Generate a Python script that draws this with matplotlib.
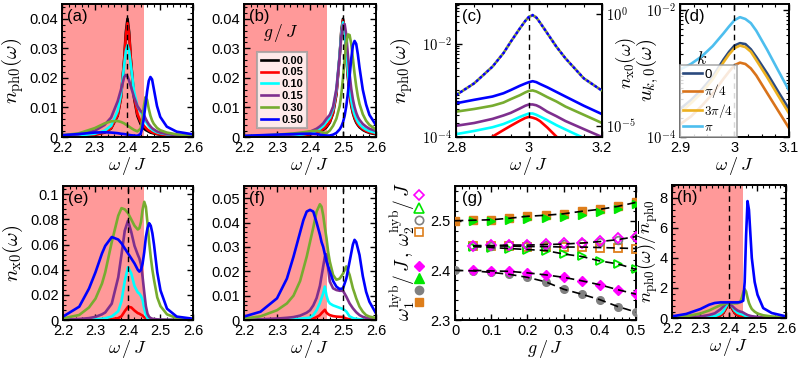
import numpy as np
import matplotlib
matplotlib.use('Agg')
import matplotlib.pyplot as plt
from matplotlib.ticker import AutoMinorLocator, LogLocator, NullFormatter
from matplotlib.lines import Line2D

plt.rcParams['font.family'] = ['Liberation Sans', 'DejaVu Sans']
plt.rcParams['mathtext.fontset'] = 'cm'

# ---------------- data ----------------
g_labels = ['0.00', '0.05', '0.10', '0.15', '0.30', '0.50']
g_colors = ['#000000', '#FF0000', '#00FFFF', '#7E2F8E', '#77AC30', '#0000FF']
band_edge = 2.45
band_color = '#FF9999'

# (a) n_ph0, resonance at 2.4
w_a = [2.20, 2.25, 2.30, 2.33, 2.35, 2.37, 2.38, 2.39, 2.395, 2.40, 2.405, 2.41, 2.42, 2.43,
       2.44, 2.445, 2.45, 2.455, 2.46, 2.465, 2.47, 2.475, 2.48, 2.49, 2.50, 2.52, 2.55, 2.60]
a_g000 = [.0002, .00035, .00077, .0015, .0029, .0072, .0132, .0265, .0355, .040, .0355, .0265, .0132, .0072,
          .0044, .0035, .0029, .0024, .0021, .0018, .0015, .00135, .0012, .00095, .00077, .00054, .00035, .0002]
a_g005 = [.0002, .0004, .0008, .0016, .003, .0074, .0133, .026, .0343, .0385, .0345, .0265, .0138, .0078,
          .0052, .0045, .0038, .0032, .0026, .0022, .0019, .0016, .0014, .0011, .0009, .0006, .0004, .0002]
a_g010 = [.0003, .0005, .0011, .0021, .0038, .0088, .0143, .0245, .029, .031, .029, .0245, .0155, .0105,
          .0085, .0078, .0065, .0054, .0045, .0037, .003, .0025, .0021, .0016, .0013, .0009, .0005, .0003]
a_g015 = [.0005, .0009, .0021, .0041, .0066, .0121, .016, .0203, .021, .0205, .019, .0172, .0135, .0105,
          .0088, .0083, .0075, .0063, .0052, .0043, .0036, .003, .0026, .0019, .0015, .001, .0006, .0003]
a_g030 = [.0006, .0012, .003, .0046, .0053, .0054, .0051, .0046, .0042, .0039, .0035, .0031, .0024, .0019,
          .0028, .0055, .0105, .0135, .0125, .0095, .0072, .0056, .0045, .0031, .0023, .0015, .0009, .0005]
a_g050 = [.0006, .0010, .0015, .0016, .0015, .0013, .0011, .0010, .0009, .0008, .0007, .0006, .0005, .0004,
          .0010, .0030, .0065, .0110, .0155, .0190, .0203, .0195, .0165, .0105, .0068, .0035, .0018, .0009]

# (b) n_ph0, resonance at 2.5
w_b = [2.20, 2.25, 2.30, 2.35, 2.38, 2.40, 2.42, 2.43, 2.44, 2.45, 2.46, 2.47, 2.48, 2.49, 2.495,
       2.50, 2.505, 2.51, 2.515, 2.52, 2.525, 2.53, 2.535, 2.54, 2.545, 2.55, 2.56, 2.57, 2.58, 2.60]
b_g000 = [.0001, .00014, .00022, .0004, .0006, .0009, .0014, .0018, .0024, .0033, .0049, .008, .0144, .0277, .036,
          .040, .036, .0277, .020, .0144, .0106, .008, .0062, .0049, .004, .0033, .0024, .0018, .0014, .0009]
b_g005 = [.0001, .00015, .00025, .00045, .0007, .001, .0016, .002, .0027, .0037, .0052, .0083, .0146, .0276, .0357,
          .0395, .0358, .028, .0205, .015, .011, .0084, .0066, .0053, .0043, .0036, .0027, .002, .0016, .0011]
b_g010 = [.00015, .0002, .0003, .0006, .0009, .0013, .0021, .0028, .0037, .0052, .0065, .0095, .0158, .0282, .0352,
          .0388, .0362, .0295, .0222, .0165, .0124, .0096, .0076, .0062, .0051, .0043, .0032, .0025, .002, .0014]
b_g015 = [.0002, .0003, .0005, .0009, .0013, .0018, .0028, .0036, .0046, .0062, .0075, .0103, .0163, .0275, .0342,
          .0378, .0382, .0345, .0275, .0213, .0163, .0127, .0101, .0082, .0068, .0058, .0044, .0035, .0028, .002]
b_g030 = [.0003, .0005, .0008, .0012, .0016, .0019, .0021, .0019, .0014, .0013, .0022, .0038, .0062, .0105, .0145,
          .0200, .0265, .0318, .0347, .0345, .0315, .0265, .0215, .0172, .0138, .0112, .0077, .0055, .0041, .0025]
b_g050 = [.0004, .0006, .0008, .0010, .0011, .0011, .0010, .0008, .0006, .0005, .0005, .0008, .0014, .0026, .0036,
          .0050, .0072, .0105, .0150, .0205, .0265, .0310, .0325, .0315, .0280, .0235, .0160, .0110, .0075, .0040]

# (c) log scale, n_ph0 (left, solid) and n_x0 (right, dotted)
w_c = [2.8, 2.85, 2.9, 2.93, 2.95, 2.975, 2.99, 3.0, 3.01, 3.02, 3.03, 3.05, 3.075, 3.1, 3.15, 3.2]
c_g005 = [3.2e-5, 5.6e-5, 1.02e-4, 1.41e-4, 1.74e-4, 2.24e-4, 2.57e-4, 2.7e-4, 2.6e-4, 2.45e-4, 2.2e-4, 1.6e-4, 1.02e-4, 7.1e-5, 3.5e-5, 2.0e-5]
c_g010 = [1.15e-4, 1.35e-4, 1.62e-4, 1.9e-4, 2.2e-4, 2.7e-4, 3.0e-4, 3.2e-4, 3.2e-4, 3.0e-4, 2.75e-4, 2.3e-4, 1.8e-4, 1.45e-4, 9.5e-5, 6.3e-5]
c_g015 = [1.74e-4, 2.0e-4, 2.45e-4, 2.9e-4, 3.3e-4, 4.1e-4, 4.7e-4, 5.0e-4, 5.0e-4, 4.8e-4, 4.4e-4, 3.5e-4, 2.8e-4, 2.2e-4, 1.48e-4, 1.0e-4]
c_g030 = [3.5e-4, 4.0e-4, 4.7e-4, 5.5e-4, 6.5e-4, 7.9e-4, 9.1e-4, 9.8e-4, 1.0e-3, 9.5e-4, 8.7e-4, 7.2e-4, 5.8e-4, 4.5e-4, 3.0e-4, 2.0e-4]
c_g050 = [5.3e-4, 6.3e-4, 7.4e-4, 8.7e-4, 1.02e-3, 1.26e-3, 1.41e-3, 1.51e-3, 1.58e-3, 1.51e-3, 1.38e-3, 1.17e-3, 9.3e-4, 7.4e-4, 4.7e-4, 3.1e-4]
c_nx0 = [2.4e-4, 8.1e-4, 4.5e-3, 1.8e-2, 5.8e-2, 0.23, 0.50, 0.76, 0.89, 0.71, 0.42, 0.14, 3.5e-2, 1.05e-2, 1.35e-3, 3.8e-4]

# (d) u_k,0 for several k
w_d = [2.9, 2.92, 2.94, 2.96, 2.98, 2.99, 3.0, 3.01, 3.02, 3.03, 3.04, 3.06, 3.08, 3.1]
k_labels = ['0', r'$\pi/4$', r'$3\pi/4$', r'$\pi$']
k_colors = ['#2B4A7E', '#D9731A', '#EDB120', '#4DBEEE']
d_k0 = [2.75e-4, 3.8e-4, 5.6e-4, 8.9e-4, 1.66e-3, 2.19e-3, 2.75e-3, 3.0e-3, 2.9e-3, 2.4e-3, 1.82e-3, 1.0e-3, 5.2e-4, 2.75e-4]
d_k1 = [1.58e-4, 2.1e-4, 3.1e-4, 4.8e-4, 8.3e-4, 1.07e-3, 1.35e-3, 1.48e-3, 1.41e-3, 1.2e-3, 9.3e-4, 4.9e-4, 2.6e-4, 1.38e-4]
d_k3 = [2.4e-4, 3.4e-4, 5.0e-4, 8.1e-4, 1.51e-3, 2.0e-3, 2.5e-3, 2.75e-3, 2.6e-3, 2.2e-3, 1.62e-3, 8.7e-4, 4.5e-4, 2.35e-4]
d_k4 = [1.15e-3, 1.41e-3, 1.86e-3, 2.7e-3, 4.3e-3, 5.5e-3, 6.9e-3, 7.7e-3, 7.2e-3, 6.2e-3, 4.7e-3, 2.35e-3, 1.12e-3, 5.4e-4]

# (e) n_x0, resonance 2.4
w_e = [2.20, 2.25, 2.28, 2.30, 2.32, 2.33, 2.35, 2.37, 2.38, 2.39, 2.40, 2.41, 2.42, 2.43, 2.435,
       2.44, 2.445, 2.45, 2.455, 2.46, 2.465, 2.47, 2.475, 2.48, 2.49, 2.50, 2.52, 2.55, 2.60]
e_g005 = [0, 0, 0, .0001, .0002, .0003, .0006, .0015, .003, .007, .0105, .010, .0075, .0055, .005,
          .0042, .0035, .0022, .0012, .0006, .0003, .0002, .0001, .0001, 0, 0, 0, 0, 0]
e_g010 = [0, .0002, .0004, .0006, .001, .0014, .0028, .007, .015, .031, .042, .037, .027, .022, .021,
          .019, .016, .009, .004, .0015, .0007, .0004, .0003, .0002, .0001, 0, 0, 0, 0]
e_g015 = [.0002, .0008, .0015, .0025, .0045, .006, .013, .034, .052, .071, .079, .070, .059, .052, .049,
          .044, .034, .022, .011, .005, .0025, .0015, .001, .0008, .0005, .0003, .0002, .0001, 0]
e_g030 = [.0013, .004, .010, .017, .029, .038, .062, .083, .089, .088, .085, .080, .075, .072, .073,
          .078, .088, .094, .090, .077, .062, .050, .040, .032, .018, .011, .0045, .0015, .0005]
e_g050 = [.0027, .0106, .025, .038, .053, .059, .066, .064, .061, .057, .053, .049, .045, .040, .0385,
          .040, .045, .054, .066, .073, .077, .075, .069, .060, .038, .0235, .009, .0027, .001]

# (f) n_x0, resonance 2.5
w_f = [2.20, 2.25, 2.30, 2.33, 2.35, 2.37, 2.38, 2.39, 2.40, 2.41, 2.42, 2.43, 2.435, 2.44, 2.445, 2.45,
       2.455, 2.46, 2.47, 2.48, 2.49, 2.50, 2.51, 2.52, 2.53, 2.535, 2.54, 2.55, 2.56, 2.57, 2.58, 2.60]
f_g005 = [0, 0, 0, 0, 0, .0001, .0001, .0002, .0003, .0006, .0012, .002, .0028, .0035, .0042, .003,
          .0024, .002, .0016, .0014, .0013, .0012, .0006, .0003, .0002, .0001, .0001, 0, 0, 0, 0, 0]
f_g010 = [0, .0001, .0002, .0003, .0004, .0005, .0007, .0008, .001, .002, .004, .007, .009, .011, .0137, .010,
          .0078, .0068, .006, .0055, .005, .0045, .0035, .0015, .0008, .0006, .0005, .0003, .0002, .0001, .0001, 0]
f_g015 = [.0001, .0003, .0006, .0009, .0012, .0018, .0024, .003, .004, .006, .009, .014, .018, .022, .026, .027,
          .021, .0158, .013, .0123, .012, .012, .0096, .0068, .0048, .004, .0032, .002, .0013, .0009, .0007, .0005]
f_g030 = [.0006, .0015, .004, .0068, .010, .016, .021, .026, .032, .038, .0445, .0475, .0465, .043, .038, .0335,
          .028, .024, .0185, .0165, .017, .019, .022, .0185, .013, .011, .0089, .0055, .0034, .002, .0014, .0008]
f_g050 = [.0014, .0034, .0089, .017, .026, .036, .041, .0445, .0452, .0445, .040, .035, .032, .030, .027, .024,
          .022, .020, .016, .0137, .0127, .013, .017, .024, .031, .0329, .032, .0267, .018, .0116, .0075, .0027]

# (g) hybridized frequencies vs g
g_vals = [0.0, 0.05, 0.10, 0.15, 0.20, 0.25, 0.30, 0.35, 0.40, 0.45, 0.50]
nan = np.nan
w1_square = [2.500, 2.501, 2.502, 2.505, 2.509, 2.511, 2.514, 2.519, 2.523, 2.529, 2.537]
w1_triangle = [nan, 2.500, 2.500, 2.501, 2.503, 2.505, 2.508, 2.512, 2.517, 2.524, 2.534]
w1_circle = [2.400, 2.399, 2.396, 2.392, 2.386, 2.377, 2.362, 2.352, 2.341, 2.327, 2.316]
w1_diamond = [nan, 2.400, 2.399, 2.398, 2.395, 2.391, 2.386, 2.379, 2.371, 2.361, 2.352]
w2_diamond = [nan, 2.450, 2.452, 2.452, 2.452, 2.453, 2.455, 2.456, 2.460, 2.465, 2.468]
w2_triangle = [nan, 2.448, 2.446, 2.444, 2.442, 2.440, 2.433, 2.428, 2.419, 2.413, 2.402]
w2_circle = [nan, 2.450, 2.450, 2.451, 2.451, 2.452, 2.453, 2.455, 2.458, 2.462, 2.468]
w2_square = [nan, 2.449, 2.449, 2.449, 2.448, 2.448, 2.447, 2.447, 2.446, 2.445, 2.444]
c_mag, c_grn, c_gry, c_org = '#FF00FF', '#00E600', '#808080', '#DE7E1B'

# (h) normalized n_ph0
h_g000 = [.005, .009, .019, .038, .073, .18, .33, .66, .89, 1.0, .89, .66, .33, .18,
          .11, .088, .073, .061, .052, .044, .038, .034, .03, .024, .019, .0135, .009, .005]
h_g005 = [.005, .01, .021, .042, .078, .19, .35, .68, .9, 1.0, .9, .69, .36, .2,
          .135, .117, .099, .083, .068, .057, .049, .042, .036, .029, .023, .016, .01, .005]
h_g010 = [.01, .016, .035, .068, .12, .28, .46, .79, .94, 1.0, .94, .79, .5, .34,
          .27, .25, .21, .17, .145, .12, .097, .08, .068, .052, .042, .029, .016, .01]
h_g015 = [.024, .043, .1, .2, .31, .58, .76, .97, 1.0, .98, .9, .82, .64, .5,
          .42, .4, .36, .3, .25, .2, .17, .14, .12, .09, .07, .05, .03, .015]
h_g030 = [.05, .12, .3, .5, .68, .85, .92, .97, .99, 1.0, 1.0, .99, .97, .98,
          1.1, 1.35, 1.7, 1.92, 1.75, 1.35, 1.0, .78, .6, .42, .3, .18, .1, .05]
h_g050 = [.11, .27, .6, .88, 1.0, 1.04, 1.04, 1.04, 1.04, 1.04, 1.04, 1.04, 1.04, 1.04,
          1.06, 1.1, 1.15, 2.4, 5.5, 7.78, 7.2, 5.6, 4.0, 2.4, 1.55, .66, .33, .11]

# tick labels
xt_band = [2.2, 2.3, 2.4, 2.5, 2.6]
xt_band_lab = ['2.2', '2.3', '2.4', '2.5', '2.6']

# ---------------- figure ----------------
fig = plt.figure(figsize=(7.98, 3.66), dpi=100)
W, H = 798.0, 366.0


def add_ax(l, r, t, b):
    return fig.add_axes([l / W, 1 - b / H, (r - l) / W, (b - t) / H])


TL = 10.5
YL = 15
XL = 13


def style(ax, right=True, minor=True):
    ax.tick_params(which='both', direction='in', top=True, right=right, labelsize=TL, width=1, pad=3)
    ax.tick_params(which='major', length=4)
    ax.tick_params(which='minor', length=2, width=0.8)
    if minor:
        ax.xaxis.set_minor_locator(AutoMinorLocator(5))
        ax.yaxis.set_minor_locator(AutoMinorLocator(5))
    for s in ax.spines.values():
        s.set_linewidth(1.4)


def panel_letter(ax, s):
    ax.text(0.04, 0.96, s, transform=ax.transAxes, ha='left', va='top', fontsize=12, zorder=10)


def xlab(ax):
    ax.set_xlabel(r'$\omega\,/\,J$', fontsize=XL, labelpad=0)


def ylab(ax, s, xc, size=YL, axis=None):
    axis = axis if axis is not None else ax.yaxis
    axis.set_label_text(s, fontsize=size)
    axis.set_label_coords(xc, 0.5)


LW = 1.9

# ---- (a)
ax = add_ax(62, 193, 4, 137)
ax.axvspan(2.2, band_edge, color=band_color, lw=0, zorder=0)
for y, c in zip([a_g000, a_g005, a_g010, a_g015, a_g030, a_g050], g_colors):
    ax.plot(w_a, y, color=c, lw=LW)
ax.axvline(2.4, color='k', ls=(0, (4, 3)), lw=1)
ax.set_xlim(2.2, 2.6); ax.set_ylim(0, 0.045)
ax.set_xticks(xt_band); ax.set_xticklabels(xt_band_lab)
ax.set_yticks([0, .01, .02, .03, .04]); ax.set_yticklabels(['0', '0.01', '0.02', '0.03', '0.04'])
style(ax); xlab(ax)
ylab(ax, r'$n_{\rm ph0}(\omega)$', -0.275)
panel_letter(ax, '(a)')

# ---- (b)
ax = add_ax(244, 376, 4, 137)
ax.axvspan(2.2, band_edge, color=band_color, lw=0, zorder=0)
hs = []
for y, c, lab in zip([b_g000, b_g005, b_g010, b_g015, b_g030, b_g050], g_colors, g_labels):
    h, = ax.plot(w_b, y, color=c, lw=LW, label=lab)
    hs.append(h)
ax.axvline(2.5, color='k', ls=(0, (4, 3)), lw=1)
ax.set_xlim(2.2, 2.6); ax.set_ylim(0, 0.045)
ax.set_xticks(xt_band); ax.set_xticklabels(xt_band_lab)
ax.set_yticks([0, .01, .02, .03, .04]); ax.set_yticklabels(['0', '0.01', '0.02', '0.03', '0.04'])
style(ax); xlab(ax)
leg = ax.legend(handles=hs, loc='lower left', bbox_to_anchor=(0.1, 0.065), borderaxespad=0,
                prop={'size': 8, 'weight': 'bold'}, handlelength=1.6, handletextpad=0.3,
                labelspacing=0.17, borderpad=0.3, fancybox=False, framealpha=0.8,
                edgecolor='#A0A0A0')
leg.get_frame().set_linewidth(1.5)
ax.text(0.28, 0.78, r'$g\,/\,J$', transform=ax.transAxes, ha='center', va='center', fontsize=12.5)
panel_letter(ax, '(b)')

# ---- (c)
ax = add_ax(456, 602, 4, 137)
ax.set_yscale('log')
for y, c in zip([c_g005, c_g010, c_g015, c_g030, c_g050], g_colors[1:]):
    ax.plot(w_c, y, color=c, lw=LW)
ax.axvline(3.0, color='k', ls=(0, (4, 3)), lw=1)
ax.set_xlim(2.8, 3.2); ax.set_ylim(1e-4, 0.072)
ax.set_xticks([2.8, 3.0, 3.2]); ax.set_xticklabels(['2.8', '3', '3.2'])
style(ax, right=False, minor=False)
ax.xaxis.set_minor_locator(AutoMinorLocator(4))
ax.set_yticks([1e-4, 1e-2]); ax.set_yticklabels([r'$\mathsf{10^{-4}}$', r'$\mathsf{10^{-2}}$'])
ax.yaxis.set_minor_locator(LogLocator(base=10, subs=np.arange(1, 10)))
ax.yaxis.set_minor_formatter(NullFormatter())
xlab(ax)
ylab(ax, r'$n_{\rm ph0}(\omega)$', -0.28)
panel_letter(ax, '(c)')
axr = ax.twinx()
axr.set_yscale('log')
for c, off in zip([g_colors[3], g_colors[4], g_colors[5]], [0.0, 0.55, 1.1]):
    axr.plot(w_c, c_nx0, color=c, lw=2.1, ls=(off, (0.05, 1.6)), dash_capstyle='round')
axr.set_ylim(10 ** -5.49, 10 ** 0.45)
axr.set_yticks([1e-5, 1e0]); axr.set_yticklabels([r'$\mathsf{10^{-5}}$', r'$\mathsf{10^{0}}$'])
axr.yaxis.set_minor_locator(LogLocator(base=10, subs=np.arange(1, 10)))
axr.yaxis.set_minor_formatter(NullFormatter())
axr.tick_params(which='both', direction='in', labelsize=TL, width=1, pad=3)
axr.tick_params(which='major', length=4)
axr.tick_params(which='minor', length=2, width=0.8)
axr.yaxis.set_label_text(r'$n_{\rm x0}(\omega)$', fontsize=YL - 1.5)
axr.yaxis.set_label_coords(1.08, 0.56)

# ---- (d)
ax = add_ax(680, 789, 4, 137)
ax.set_yscale('log')
hs = []
for y, c, lab in zip([d_k0, d_k1, d_k3, d_k4], k_colors, k_labels):
    h, = ax.plot(w_d, y, color=c, lw=LW, label=lab)
    hs.append(h)
ax.axvline(3.0, color='k', ls=(0, (4, 3)), lw=1)
ax.set_xlim(2.9, 3.1); ax.set_ylim(1e-4, 0.0124)
ax.set_xticks([2.9, 3.0, 3.1]); ax.set_xticklabels(['2.9', '3', '3.1'])
style(ax, minor=False)
ax.xaxis.set_minor_locator(AutoMinorLocator(4))
ax.set_yticks([1e-4, 1e-2]); ax.set_yticklabels([r'$\mathsf{10^{-4}}$', r'$\mathsf{10^{-2}}$'])
ax.yaxis.set_minor_locator(LogLocator(base=10, subs=np.arange(1, 10)))
ax.yaxis.set_minor_formatter(NullFormatter())
xlab(ax)
ylab(ax, r'$u_{k,0}(\omega)$', -0.17)
leg = ax.legend(handles=hs, loc='lower left', bbox_to_anchor=(0.0, 0.0), borderaxespad=0,
                fontsize=9.5, handlelength=1.4, handletextpad=0.2, labelspacing=0.12,
                borderpad=0.25, fancybox=False, framealpha=0.85, edgecolor='#A0A0A0')
leg.get_frame().set_linewidth(1.2)
ax.text(0.2, 0.58, r'$k$', transform=ax.transAxes, ha='center', va='center', fontsize=13, zorder=10)
panel_letter(ax, '(d)')

# ---- (e)
ax = add_ax(63, 193, 186, 320)
ax.axvspan(2.2, band_edge, color=band_color, lw=0, zorder=0)
for y, c in zip([e_g005, e_g010, e_g015, e_g030, e_g050], g_colors[1:]):
    ax.plot(w_e, y, color=c, lw=LW)
ax.axvline(2.4, color='k', ls=(0, (4, 3)), lw=1)
ax.set_xlim(2.2, 2.6); ax.set_ylim(0, 0.1066)
ax.set_xticks(xt_band); ax.set_xticklabels(xt_band_lab)
ax.set_yticks([0, .02, .04, .06, .08, .1]); ax.set_yticklabels(['0', '0.02', '0.04', '0.06', '0.08', '0.1'])
style(ax); xlab(ax)
ylab(ax, r'$n_{\rm x0}(\omega)$', -0.29)
panel_letter(ax, '(e)')

# ---- (f)
ax = add_ax(244, 376, 186, 320)
ax.axvspan(2.2, band_edge, color=band_color, lw=0, zorder=0)
for y, c in zip([f_g005, f_g010, f_g015, f_g030, f_g050], g_colors[1:]):
    ax.plot(w_f, y, color=c, lw=LW)
ax.axvline(2.5, color='k', ls=(0, (4, 3)), lw=1)
ax.set_xlim(2.2, 2.6); ax.set_ylim(0, 0.055)
ax.set_xticks(xt_band); ax.set_xticklabels(xt_band_lab)
ax.set_yticks([0, .01, .02, .03, .04, .05]); ax.set_yticklabels(['0', '0.01', '0.02', '0.03', '0.04', '0.05'])
style(ax); xlab(ax)
panel_letter(ax, '(f)')

# ---- (g)
ax = add_ax(455, 636, 186, 320)
ms = 5.5
for y in [w1_square, w2_circle, w2_square, w2_triangle, w1_diamond, w1_circle]:
    ax.plot(g_vals, y, color='k', lw=1.2, ls=(0, (5, 3)), zorder=4)
ax.plot(g_vals, w1_square, ls='none', marker='s', ms=ms, color=c_org, zorder=3)
ax.plot(g_vals, w1_triangle, ls='none', marker='>', ms=ms + 0.5, color=c_grn, zorder=3)
ax.plot(g_vals, w1_circle, ls='none', marker='o', ms=ms, color=c_gry, zorder=3)
ax.plot(g_vals, w1_diamond, ls='none', marker='D', ms=ms - 0.8, color=c_mag, zorder=3)
ax.plot(g_vals, w2_square, ls='none', marker='s', ms=ms, mfc='none', mec=c_org, mew=1.3, zorder=3)
ax.plot(g_vals, w2_triangle, ls='none', marker='>', ms=ms + 0.5, mfc='none', mec=c_grn, mew=1.3, zorder=3)
ax.plot(g_vals, w2_circle, ls='none', marker='o', ms=ms, mfc='none', mec=c_gry, mew=1.3, zorder=3)
ax.plot(g_vals, w2_diamond, ls='none', marker='D', ms=ms - 0.8, mfc='none', mec=c_mag, mew=1.3, zorder=3)
ax.set_xlim(0, 0.5); ax.set_ylim(2.3, 2.57)
ax.set_xticks([0, .1, .2, .3, .4, .5]); ax.set_xticklabels(['0', '0.1', '0.2', '0.3', '0.4', '0.5'])
ax.set_yticks([2.3, 2.4, 2.5]); ax.set_yticklabels(['2.3', '2.4', '2.5'])
style(ax)
ax.set_xlabel(r'$g\,/\,J$', fontsize=XL, labelpad=0)
panel_letter(ax, '(g)')
# y label with marker keys
fig.text(403 / W, 1 - 286 / H, r'$\omega_1^{\rm hyb}/\,J\,,$', rotation=90, ha='center', va='center', fontsize=14)
fig.text(403 / W, 1 - 214 / H, r'$\omega_2^{\rm hyb}/\,J$', rotation=90, ha='center', va='center', fontsize=14)
filled_keys = [Line2D([], [], ls='none', marker='D', ms=ms - 0.5, color=c_mag),
               Line2D([], [], ls='none', marker='^', ms=ms + 1, color=c_grn),
               Line2D([], [], ls='none', marker='o', ms=ms + 0.5, color=c_gry),
               Line2D([], [], ls='none', marker='s', ms=ms + 0.5, color=c_org)]
open_keys = [Line2D([], [], ls='none', marker='D', ms=ms - 0.5, mfc='none', mec=c_mag, mew=1.2),
             Line2D([], [], ls='none', marker='^', ms=ms + 1, mfc='none', mec=c_grn, mew=1.2),
             Line2D([], [], ls='none', marker='o', ms=ms + 0.5, mfc='none', mec=c_gry, mew=1.2),
             Line2D([], [], ls='none', marker='s', ms=ms + 0.5, mfc='none', mec=c_org, mew=1.2)]
for keys, yc in [(filled_keys, 285), (open_keys, 214.5)]:
    lg = fig.legend(handles=keys, labels=[' '] * 4, loc='center', bbox_to_anchor=(421 / W, 1 - yc / H),
                    frameon=False, fontsize=8, handlelength=0.8, handletextpad=0.0, labelspacing=0.2,
                    borderpad=0, borderaxespad=0)

# ---- (h)
ax = add_ax(672, 786, 185, 318)
ax.axvspan(2.2, band_edge, color=band_color, lw=0, zorder=0)
for y, c in zip([h_g000, h_g005, h_g010, h_g015, h_g030, h_g050], g_colors):
    ax.plot(w_a, y, color=c, lw=LW)
ax.axvline(2.4, color='k', ls=(0, (4, 3)), lw=1)
ax.set_xlim(2.2, 2.6); ax.set_ylim(0, 8.85)
ax.set_xticks(xt_band); ax.set_xticklabels(xt_band_lab)
ax.set_yticks([0, 2, 4, 6, 8]); ax.set_yticklabels(['0', '2', '4', '6', '8'])
style(ax); xlab(ax)
ylab(ax, r'$n_{\rm ph0}(\omega)/\overline{n}_{\rm ph0}$', -0.105, size=YL - 1.5)
panel_letter(ax, '(h)')

fig.savefig('out.png', dpi=100)
